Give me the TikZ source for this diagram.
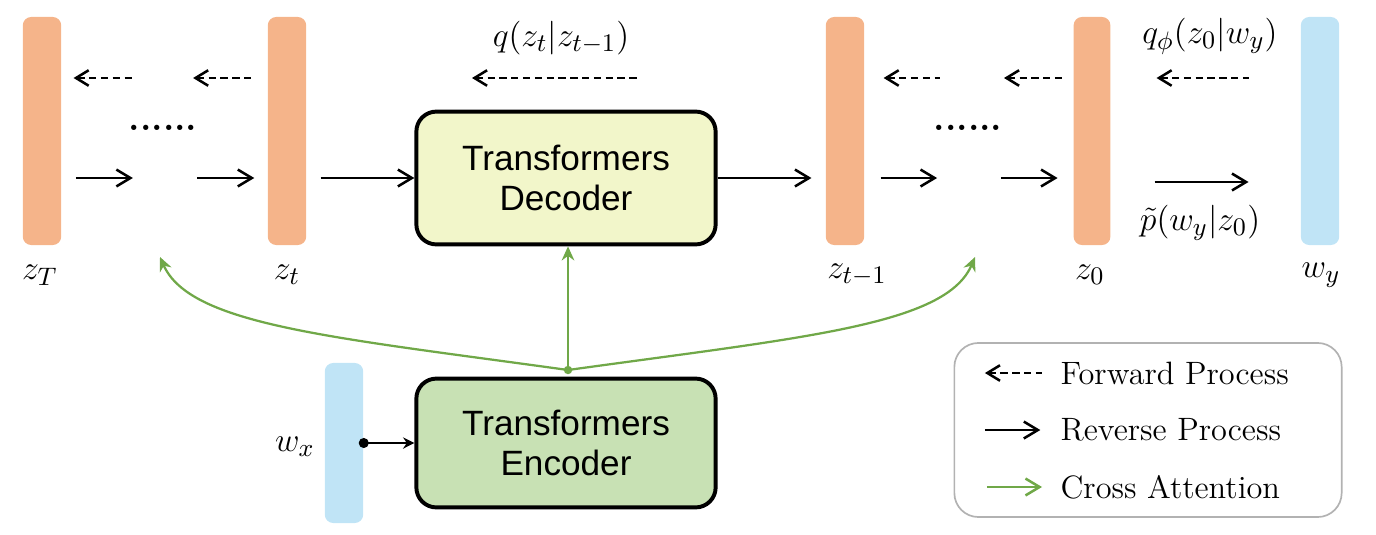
\documentclass[tikz,border=0pt]{standalone}
\usepackage{amsmath, amssymb}
\usepackage{fontspec}
\newfontfamily\boxfont{Liberation Sans}
\usetikzlibrary{arrows.meta, positioning, calc}

\definecolor{barorange}{RGB}{245,180,138}
\definecolor{barblue}{RGB}{192,228,246}
\definecolor{decfill}{RGB}{242,246,202}
\definecolor{encfill}{RGB}{200,225,180}
\definecolor{attgreen}{RGB}{112,168,72}

\begin{document}
\begin{tikzpicture}[
    x=0.0125cm, y=-0.0125cm,
    bar/.style={
        fill=barorange,
        rounded corners=3pt,
        minimum width=0.48cm,
        minimum height=2.85cm,
        inner sep=0pt
    },
    wbar/.style={
        bar,
        fill=barblue
    },
    block/.style={
        draw=black,
        line width=1.4pt,
        rounded corners=0.25cm,
        align=center,
        minimum width=3.74cm,
        minimum height=1.66cm,
        font=\boxfont\fontsize{12.5}{14.5}\selectfont
    },
    lab/.style={
        inner sep=1pt,
        font=\fontsize{12.5}{14}\selectfont
    },
    dots/.style={
        inner sep=0pt,
        font=\fontsize{13}{14}\selectfont\bfseries
    },
    legtxt/.style={
        anchor=west,
        inner sep=0pt,
        font=\fontsize{11.5}{13}\selectfont
    },
    fwd/.style={
        <-,
        >={Straight Barb[length=4.5pt,width=5.5pt]},
        line width=0.9pt,
        dash pattern=on 2.6pt off 1.6pt
    },
    rev/.style={
        ->,
        >={Straight Barb[length=5pt,width=6pt]},
        line width=0.9pt
    },
    att/.style={
        ->,
        >={Stealth[length=5pt,width=4.5pt]},
        line width=0.8pt,
        draw=attgreen
    }
]
\useasboundingbox (0,0) rectangle (1376,534);

% Nodes
\node (zT) [bar] at (42,131) {};
\node (zt) [bar] at (287,131) {};
\node (ztm) [bar] at (845,131) {};
\node (z0) [bar, minimum width=0.46cm] at (1092,131) {};
\node (wy) [wbar] at (1320,131) {};
\node (wx) [wbar, minimum height=2cm] at (344,443) {};

\node (dec) [block, fill=decfill] at (566,178) {Transformers\\Decoder};
\node (enc) [block, fill=encfill, minimum height=1.61cm] at (566,443) {Transformers\\Encoder};

\node (lzT) [lab] at (40,275) {$z_T$};
\node (lzt) [lab] at (287,275) {$z_t$};
\node (lztm) [lab] at (857,275) {$z_{t-1}$};
\node (lz0) [lab] at (1090,275) {$z_0$};
\node (lwy) [lab] at (1321,275) {$w_y$};
\node (lwx) [lab] at (295,447) {$w_x$};
\node (lq) [lab] at (561,38) {$q(z_t|z_{t-1})$};
\node (lqphi) [lab] at (1210,36) {$q_\phi(z_0|w_y)$};
\node (lp) [lab] at (1200,223) {$\tilde{p}(w_y|z_0)$};

\node (dL) [dots] at (163,128) {......};
\node (dR) [dots] at (968,128) {......};

\coordinate (gL) at (163,178);
\coordinate (gR) at (968,178);
\coordinate (fL) at (163,78);
\coordinate (fR) at (968,78);
\coordinate (qa) at (472,78);
\coordinate (qb) at (640,78);
\coordinate (pRow) at (1200,182);
\coordinate (J) at (568,370);
\coordinate (aL) at (160,257);
\coordinate (aR) at (975,257);

% Reverse process
\draw [rev, shorten <=5pt, shorten >=10.7pt] (zT.east |- gL) -- (gL);
\draw [rev, shorten <=12.1pt, shorten >=4.6pt] (gL) -- (zt.west |- gL);
\draw [rev, shorten <=4.9pt] (zt.east |- gL) -- (dec.west);
\draw [rev, shorten >=4.9pt] (dec.east) -- (ztm.west |- gL);
\draw [rev, shorten <=5.6pt, shorten >=11pt] (ztm.east |- gR) -- (gR);
\draw [rev, shorten <=11.7pt, shorten >=5.5pt] (gR) -- (z0.west |- gR);
\draw [rev, shorten <=15.5pt, shorten >=18.4pt] (z0.east |- pRow) -- (wy.west |- pRow);

% Forward process
\draw [fwd, shorten <=4.2pt, shorten >=11pt] (zT.east |- fL) -- (fL);
\draw [fwd, shorten <=10.7pt, shorten >=5.3pt] (fL) -- (zt.west |- fL);
\draw [fwd] (qa) -- (qb);
\draw [fwd, shorten <=6.7pt, shorten >=10pt] (ztm.east |- fR) -- (fR);
\draw [fwd, shorten <=12.8pt, shorten >=3.8pt] (fR) -- (z0.west |- fR);
\draw [fwd, shorten <=16.2pt, shorten >=18.4pt] (z0.east |- fR) -- (wy.west |- fR);

% Cross attention
\draw [att] (J) -- (J |- dec.south);
\draw [att] (J) .. controls (330,337) and (190,325) .. (aL);
\draw [att] (J) .. controls (806,337) and (946,325) .. (aR);
\fill [attgreen] (J) circle (1.5pt);

\fill (wx.east) circle (1.8pt);
\draw [->, >={Stealth[length=4pt,width=4pt]}, line width=0.9pt] (wx.east) -- (enc.west);

% Legend
\node (leg) [draw=gray!60, line width=0.6pt, rounded corners=0.3cm, minimum width=4.84cm, minimum height=2.175cm] at (1148,430) {};
\node (lf) [legtxt] at (1060,373) {Forward Process};
\node (lr) [legtxt] at (1060,430) {Reverse Process};
\node (lc) [legtxt] at (1060,487) {Cross Attention};
\draw [fwd] ([xshift=-26.7pt]lf.west) -- ([xshift=-6.4pt]lf.west);
\draw [rev] ([xshift=-26.7pt]lr.west) -- ([xshift=-7pt]lr.west);
\draw [rev, draw=attgreen] ([xshift=-26pt]lc.west) -- ([xshift=-6.4pt]lc.west);

\end{tikzpicture}
\end{document}
